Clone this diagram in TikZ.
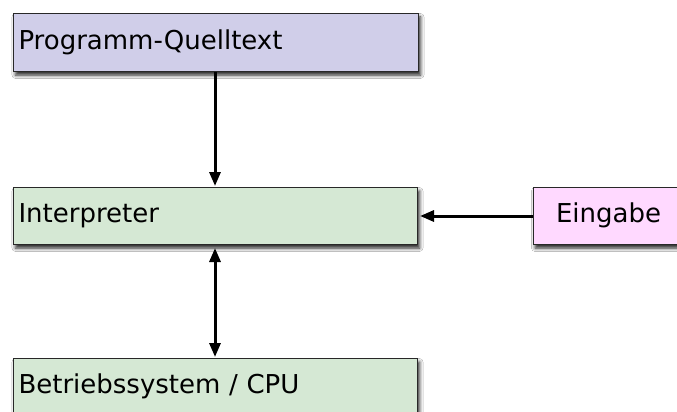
\documentclass[tikz,border=0pt]{standalone}
\usepackage{fontspec}
\setmainfont{DejaVu Sans}
\usetikzlibrary{arrows.meta,shadows.blur}
\definecolor{lav}{RGB}{208,206,233}
\definecolor{grn}{RGB}{213,232,212}
\definecolor{pnk}{RGB}{255,217,255}
\definecolor{edge}{RGB}{40,40,40}
\tikzset{
  box/.style={draw=edge, line width=1pt, anchor=north west, inner xsep=5pt, inner ysep=0pt,
    text height=19pt, text depth=6pt, align=left,
    font=\fontsize{26}{30}\selectfont,
    blur shadow={shadow xshift=2pt, shadow yshift=-3.5pt, shadow blur radius=3.5pt, shadow opacity=85}},
  arr/.style={line width=3pt, -{Triangle[length=14pt,width=11pt]}},
  darr/.style={line width=3pt, {Triangle[length=14pt,width=11pt]}-{Triangle[length=14pt,width=11pt]}}
}
\begin{document}
\begin{tikzpicture}[x=1pt,y=-1pt]
\useasboundingbox (0,0) rectangle (677,412);
\clip (0,0) rectangle (677,412);
\fill[white] (0,0) rectangle (677,412);
\node[box, fill=lav, minimum height=58pt, text width=395pt] (prog) at (13,13) {Programm-Quelltext};
\node[box, fill=grn, minimum height=57pt, text width=394pt] (interp) at (13,187) {Interpreter};
\node[box, fill=pnk, minimum height=57pt, inner xsep=23pt, text width=104pt] (eing) at (532.5,187) {Eingabe};
\node[box, fill=grn, minimum height=57pt, text width=394pt] (bs) at (13,358) {Betriebssystem / CPU};
\coordinate (xc) at (215,0);
\draw[arr, shorten >=1pt] (prog.south -| xc) -- (interp.north -| xc);
\draw[arr, shorten >=2pt] (eing.west) -- (interp.east);
\draw[darr, shorten <=3pt, shorten >=1pt] (interp.south -| xc) -- (bs.north -| xc);
\end{tikzpicture}
\end{document}
